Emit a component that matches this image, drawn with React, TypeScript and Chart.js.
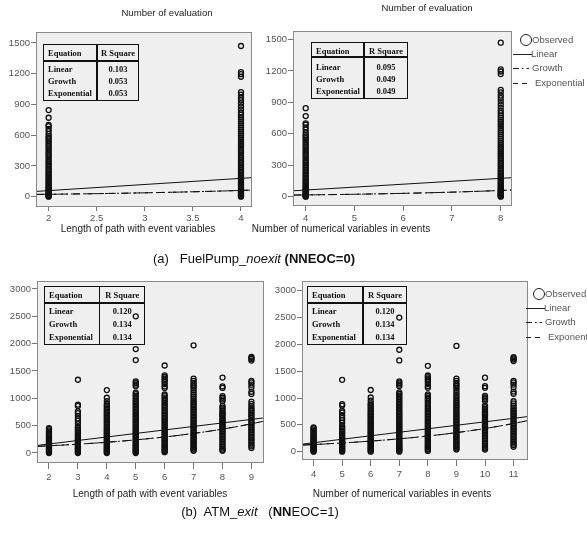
import React, { useEffect, useRef } from "react";
import { Chart, registerables } from "chart.js";
Chart.register(...registerables);

const W = 587;
const H = 533;

// ---------- data ----------
// Top row (FuelPump_noexit): observed "Number of evaluation"
const pathLenTop = [2, 4];
const numVarsTop = [4, 8];
const evalsLow = [0, 4, 9, 15, 22, 30, 38, 46, 55, 64, 74, 84, 95, 106, 118, 130, 143, 156, 170, 184, 198, 212, 227, 242, 257, 272, 288, 304, 320, 336, 352, 369, 386, 403, 420, 437, 455, 472, 490, 507, 525, 542, 560, 575, 590, 612, 640, 662, 688, 700, 770, 845];
const evalsHigh = [0, 5, 11, 18, 26, 34, 43, 52, 62, 72, 83, 94, 106, 118, 131, 144, 158, 172, 186, 200, 215, 230, 245, 260, 276, 292, 308, 324, 340, 357, 374, 391, 408, 425, 442, 460, 478, 497, 515, 535, 555, 575, 595, 615, 635, 655, 675, 695, 715, 735, 755, 775, 798, 820, 850, 880, 910, 940, 965, 995, 1020, 1170, 1195, 1215, 1470];

// Bottom row (ATM_exit)
const pathLenBottom = [2, 3, 4, 5, 6, 7, 8, 9];
const numVarsBottom = [4, 5, 6, 7, 8, 9, 10, 11];
const colB0 = [0, 12, 25, 40, 55, 70, 86, 102, 118, 135, 152, 170, 188, 206, 225, 244, 263, 282, 302, 322, 342, 365, 390, 415, 440, 455];
const colB1 = [0, 15, 32, 50, 68, 86, 105, 125, 145, 165, 186, 207, 228, 250, 272, 295, 318, 342, 368, 395, 425, 455, 480, 540, 590, 630, 680, 730, 760, 860, 885, 1340];
const colB2 = [0, 18, 36, 55, 74, 94, 114, 135, 156, 178, 200, 222, 245, 268, 291, 315, 339, 363, 388, 413, 438, 463, 488, 514, 540, 566, 592, 618, 645, 672, 700, 728, 756, 784, 812, 840, 870, 900, 950, 1010, 1150];
const colB3 = [0, 18, 36, 55, 74, 94, 114, 135, 156, 178, 200, 222, 245, 268, 291, 315, 339, 363, 388, 413, 438, 463, 488, 514, 540, 566, 592, 618, 645, 672, 700, 728, 756, 784, 812, 840, 868, 896, 925, 955, 985, 1015, 1045, 1075, 1105, 1220, 1250, 1280, 1310, 1700, 1900, 2500];
const colB4 = [15, 35, 55, 76, 97, 118, 140, 162, 185, 208, 231, 255, 279, 303, 328, 353, 378, 403, 429, 455, 481, 508, 535, 562, 590, 618, 646, 674, 702, 730, 760, 790, 820, 850, 880, 910, 945, 975, 1005, 1040, 1070, 1190, 1220, 1260, 1300, 1330, 1360, 1390, 1420, 1600];
const colB5 = [40, 60, 82, 104, 126, 149, 172, 195, 219, 243, 267, 292, 317, 342, 368, 394, 420, 446, 473, 500, 527, 554, 582, 610, 638, 666, 695, 724, 753, 782, 812, 842, 872, 902, 932, 962, 1000, 1035, 1070, 1110, 1150, 1190, 1220, 1250, 1280, 1320, 1360, 1970];
const colB6 = [40, 60, 80, 110, 140, 170, 200, 230, 260, 290, 320, 350, 380, 400, 430, 460, 480, 500, 520, 550, 580, 600, 620, 650, 680, 700, 720, 740, 770, 800, 830, 860, 950, 980, 1010, 1040, 1190, 1220, 1380];
const colB7 = [90, 120, 150, 180, 210, 240, 270, 300, 330, 360, 390, 420, 450, 480, 510, 540, 570, 600, 640, 670, 700, 730, 760, 790, 820, 860, 900, 940, 1080, 1120, 1200, 1250, 1290, 1320, 1690, 1720, 1740, 1760];
const colsBottom = [colB0, colB1, colB2, colB3, colB4, colB5, colB6, colB7];

// tick labels
const xTicksTL = [2, 2.5, 3, 3.5, 4];
const xTicksTR = [4, 5, 6, 7, 8];
const yTicksTop = [0, 300, 600, 900, 1200, 1500];
const xTicksBL = [2, 3, 4, 5, 6, 7, 8, 9];
const xTicksBR = [4, 5, 6, 7, 8, 9, 10, 11];
const yTicksBottom = [0, 500, 1000, 1500, 2000, 2500, 3000];

// fitted models: linear [b0, b1], growth/exponential [a, k]
const linFitTL = [-60.4, 59.8];
const expFitTL = [8.92, 0.48];
const linFitTR = [-47.8, 27.9];
const expFitTR = [4.96, 0.311];
const linFitBL = [35.8, 64.3];
const expFitBL = [88.2, 0.2];
const linFitBR = [-93, 65];
const expFitBR = [60.9, 0.196];

// model summary (R Square)
const equations = ["Linear", "Growth", "Exponential"];
const rsqTL = ["0.103", "0.053", "0.053"];
const rsqTR = ["0.095", "0.049", "0.049"];
const rsqBL = ["0.120", "0.134", "0.134"];
const rsqBR = ["0.120", "0.134", "0.134"];

// ---------- chart panels ----------
const SANS = '"Liberation Sans", Arial, sans-serif';
const SERIF = '"Liberation Serif", "Times New Roman", serif';
const Y_AXIS_W = 40;
const X_AXIS_H = 30;

interface PanelCfg {
  area: [number, number, number, number];
  xRange: [number, number];
  yRange: [number, number];
  xs: number[];
  cols: number[][];
  xTicks: number[];
  yTicks: number[];
  linFit: number[];
  expFit: number[];
  tickLenX: number;
  padX: number;
}

const panels: PanelCfg[] = [
  { area: [37, 33, 251, 206], xRange: [1.879, 4.104], yRange: [-91, 1597], xs: pathLenTop, cols: [evalsLow, evalsHigh], xTicks: xTicksTL, yTicks: yTicksTop, linFit: linFitTL, expFit: expFitTL, tickLenX: 5, padX: 2 },
  { area: [294, 32, 511, 205], xRange: [3.76, 8.21], yRange: [-79, 1572], xs: numVarsTop, cols: [evalsLow, evalsHigh], xTicks: xTicksTR, yTicks: yTicksTop, linFit: linFitTR, expFit: expFitTR, tickLenX: 6, padX: 2 },
  { area: [38, 282, 263, 462], xRange: [1.62, 9.4], yRange: [-165, 3128], xs: pathLenBottom, cols: colsBottom, xTicks: xTicksBL, yTicks: yTicksBottom, linFit: linFitBL, expFit: expFitBL, tickLenX: 7, padX: 3 },
  { area: [303, 282, 527, 459], xRange: [3.63, 11.47], yRange: [-136, 3162], xs: numVarsBottom, cols: colsBottom, xTicks: xTicksBR, yTicks: yTicksBottom, linFit: linFitBR, expFit: expFitBR, tickLenX: 7, padX: 3 },
];

const boxPlugin = {
  id: "spssBox",
  beforeDatasetsDraw(chart: any) {
    const { ctx, chartArea: a } = chart;
    ctx.save();
    ctx.fillStyle = "#efefef";
    ctx.fillRect(a.left, a.top, a.right - a.left, a.bottom - a.top);
    ctx.restore();
  },
  afterDatasetsDraw(chart: any) {
    const { ctx, chartArea: a } = chart;
    ctx.save();
    ctx.strokeStyle = "#8a8a8a";
    ctx.lineWidth = 1;
    ctx.strokeRect(a.left - 0.5, a.top - 0.5, a.right - a.left + 1, a.bottom - a.top + 1);
    ctx.restore();
  },
};

function Panel({ cfg }: { cfg: PanelCfg }) {
  const ref = useRef<HTMLCanvasElement | null>(null);
  useEffect(() => {
    if (!ref.current) return;
    const [l, t, r, b] = cfg.area;
    const [x0, x1] = cfg.xRange;
    const obs = cfg.xs.flatMap((x, i) => cfg.cols[i].map((y) => ({ x, y })));
    const linPts = [x0, x1].map((x) => ({ x, y: cfg.linFit[0] + cfg.linFit[1] * x }));
    const n = 30;
    const expPts = Array.from({ length: n + 1 }, (_, i) => {
      const x = x0 + ((x1 - x0) * i) / n;
      return { x, y: cfg.expFit[0] * Math.exp(cfg.expFit[1] * x) };
    });
    const tickFont = { size: 9.5, family: SANS };
    const chart = new Chart(ref.current, {
      type: "scatter",
      data: {
        datasets: [
          { type: "scatter", data: obs, pointRadius: 2.5, pointBorderWidth: 1.3, borderColor: "#111", backgroundColor: "rgba(0,0,0,0)", pointStyle: "circle" } as any,
          { type: "line", data: linPts, borderColor: "#111", borderWidth: 1, pointRadius: 0, fill: false } as any,
          { type: "line", data: expPts, borderColor: "#111", borderWidth: 1, borderDash: [9, 3, 2, 3], pointRadius: 0, fill: false } as any,
          { type: "line", data: expPts, borderColor: "#111", borderWidth: 1, borderDash: [7, 5], pointRadius: 0, fill: false } as any,
        ],
      },
      options: {
        responsive: false,
        animation: false,
        events: [],
        layout: { padding: { left: l - Y_AXIS_W, top: t, right: W - r, bottom: H - b - X_AXIS_H } },
        plugins: { legend: { display: false }, tooltip: { enabled: false }, title: { display: false } },
        scales: {
          x: {
            type: "linear",
            position: "bottom",
            min: x0,
            max: x1,
            afterBuildTicks: (ax: any) => { ax.ticks = cfg.xTicks.map((v) => ({ value: v })); },
            afterFit: (s: any) => { s.height = X_AXIS_H; },
            ticks: { callback: (v: any) => String(v), color: "#555", font: tickFont, padding: cfg.padX, maxRotation: 0, autoSkip: false },
            grid: { drawOnChartArea: false, drawTicks: true, tickLength: cfg.tickLenX, color: "#777" },
            border: { display: false },
          },
          y: {
            type: "linear",
            position: "left",
            min: cfg.yRange[0],
            max: cfg.yRange[1],
            afterBuildTicks: (ax: any) => { ax.ticks = cfg.yTicks.map((v) => ({ value: v })); },
            afterFit: (s: any) => { s.width = Y_AXIS_W; },
            ticks: { callback: (v: any) => String(v), color: "#555", font: tickFont, padding: 1, autoSkip: false },
            grid: { drawOnChartArea: false, drawTicks: true, tickLength: 6, color: "#777" },
            border: { display: false },
          },
        },
      } as any,
      plugins: [boxPlugin],
    });
    return () => chart.destroy();
  }, [cfg]);
  return <canvas ref={ref} width={W} height={H} style={{ position: "absolute", left: 0, top: 0, width: W, height: H }} />;
}

// ---------- text overlays ----------
function Txt({ x, y, size, color = "#222", anchor = "center", children }: any) {
  const tx = anchor === "center" ? "-50%" : anchor === "right" ? "-100%" : "0";
  return (
    <div style={{ position: "absolute", left: x, top: y, transform: `translate(${tx}, -50%)`, fontSize: size, lineHeight: 1, whiteSpace: "nowrap", color }}>
      {children}
    </div>
  );
}

function RTable({ l, t, r, b, div, hb, vals }: { l: number; t: number; r: number; b: number; div: number; hb: number; vals: string[] }) {
  const h = b - t;
  const rowY = [0.16, 0.43, 0.65, 0.86].map((f) => t + f * h);
  const col2 = (div + r) / 2;
  const st = { fontFamily: SERIF, fontWeight: 700 } as any;
  return (
    <>
      <div style={{ position: "absolute", left: l, top: t, width: r - l, height: h, border: "1.5px solid #111", boxSizing: "border-box" }} />
      <div style={{ position: "absolute", left: div - 0.75, top: t, width: 1.5, height: h, background: "#111" }} />
      <div style={{ position: "absolute", left: l, top: hb - 1, width: r - l, height: 2, background: "#111" }} />
      <div style={st}>
        <Txt x={l + 5} y={rowY[0]} size={8.5} color="#111" anchor="left">Equation</Txt>
        <Txt x={col2} y={rowY[0]} size={8.5} color="#111">R Square</Txt>
        {equations.map((e, i) => (
          <React.Fragment key={e}>
            <Txt x={l + 5} y={rowY[i + 1]} size={8.5} color="#111" anchor="left">{e}</Txt>
            <Txt x={col2} y={rowY[i + 1]} size={8.5} color="#111">{vals[i]}</Txt>
          </React.Fragment>
        ))}
      </div>
    </>
  );
}

function Legend({ x, y }: { x: number; y: number }) {
  return (
    <>
      <svg style={{ position: "absolute", left: 0, top: 0 }} width={W} height={H}>
        <circle cx={x + 13} cy={y} r={5.5} fill="none" stroke="#222" strokeWidth={1} />
        <line x1={x} y1={y + 14.5} x2={x + 19} y2={y + 14.5} stroke="#222" strokeWidth={1} />
        <line x1={x} y1={y + 28.5} x2={x + 16} y2={y + 28.5} stroke="#222" strokeWidth={1} strokeDasharray="6 3 1.5 3" />
        <line x1={x} y1={y + 43.5} x2={x + 15} y2={y + 43.5} stroke="#222" strokeWidth={1} strokeDasharray="5 4" />
      </svg>
      <Txt x={x + 19} y={y} size={9.5} color="#555" anchor="left">Observed</Txt>
      <Txt x={x + 18} y={y + 14} size={9.5} color="#555" anchor="left">Linear</Txt>
      <Txt x={x + 19} y={y + 28} size={9.5} color="#555" anchor="left">Growth</Txt>
      <Txt x={x + 22} y={y + 43} size={9.5} color="#555" anchor="left">Exponential</Txt>
    </>
  );
}

export default function App() {
  return (
    <div style={{ position: "absolute", left: 0, top: 0, width: W, height: H, background: "#fff", fontFamily: SANS, overflow: "hidden" }}>
      {panels.map((p, i) => (
        <Panel key={i} cfg={p} />
      ))}
      <Txt x={167} y={13} size={9.6}>Number of evaluation</Txt>
      <Txt x={427} y={8} size={9.6}>Number of evaluation</Txt>

      <Txt x={138} y={229} size={10}>Length of path with event variables</Txt>
      <Txt x={341} y={229} size={10}>Number of numerical variables in events</Txt>
      <Txt x={150} y={494} size={10}>Length of path with event variables</Txt>
      <Txt x={402} y={494} size={10}>Number of numerical variables in events</Txt>

      <RTable l={43} t={44} r={139} b={101} div={97} hb={61} vals={rsqTL} />
      <RTable l={311} t={42} r={408} b={99} div={364} hb={57} vals={rsqTR} />
      <RTable l={44} t={286} r={145} b={345} div={99.5} hb={303} vals={rsqBL} />
      <RTable l={307} t={286} r={407} b={345} div={363} hb={303} vals={rsqBR} />

      <Legend x={513} y={40} />
      <Legend x={526} y={294} />

      <Txt x={254} y={258} size={13} color="#111">
        (a)&nbsp;&nbsp; FuelPump_<i>noexit</i> <b>(NNEOC=0)</b>
      </Txt>
      <Txt x={260} y={511} size={13} color="#111">
        (b)&nbsp; ATM_<i>exit</i>&nbsp;&nbsp; (<b>NN</b>EOC=1)
      </Txt>
    </div>
  );
}
